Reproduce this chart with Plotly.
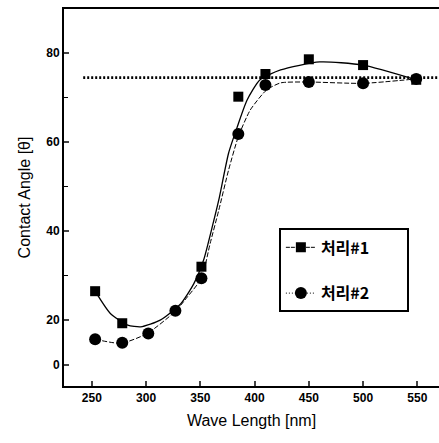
import plotly.graph_objects as go

# ---- data ----
wl_1 = [253, 278, 351, 385, 410, 450, 500, 549]
angle_1 = [26.5, 19.3, 32.0, 70.2, 75.3, 78.6, 77.3, 74.0]

wl_2 = [253, 278, 302, 327, 351, 385, 410, 450, 500, 549]
angle_2 = [15.7, 14.9, 17.0, 22.1, 29.4, 61.8, 72.8, 73.5, 73.2, 74.2]

# fitted curves
fit1_x = [253, 267, 283, 295, 313, 332, 344, 353, 361, 367, 376, 384, 393, 405, 424, 460, 500, 549]
fit1_y = [26.5, 21.5, 18.9, 18.5, 20.0, 23.7, 28.2, 33.5, 41.0, 47.0, 57.5, 63.4, 69.4, 74.0, 76.2, 78.0, 77.3, 74.0]

fit2_x = [253, 277, 301, 327, 338, 351, 359, 367, 376, 385, 396, 411, 424, 449, 500, 549]
fit2_y = [15.7, 14.8, 17.0, 22.0, 25.2, 29.4, 37.2, 44.7, 53.7, 61.2, 67.2, 71.7, 73.3, 73.5, 73.2, 74.2]

ref_x = [242, 575]
ref_level = 74.5

names = ["처리#1", "처리#2"]

y_tickvals = [10, 20, 40, 60, 80]
y_ticktext = ["0", "20", "40", "60", "80"]
y_minor = [30, 50, 70]
x_tickvals = [250, 300, 350, 400, 450, 500, 550]

pad = "\u2002" * 4  # widen the legend box

fig = go.Figure()

fig.add_trace(go.Scatter(x=ref_x, y=[ref_level, ref_level], mode="lines",
                         line=dict(color="black", width=2.8, dash="2px,2px"),
                         showlegend=False, hoverinfo="skip"))

fig.add_trace(go.Scatter(x=fit1_x, y=fit1_y, mode="lines",
                         line=dict(color="black", width=1.3, shape="spline", smoothing=0.6),
                         showlegend=False))
fig.add_trace(go.Scatter(x=fit2_x, y=fit2_y, mode="lines",
                         line=dict(color="black", width=1.0, dash="5px,2px",
                                   shape="spline", smoothing=0.6),
                         showlegend=False))

fig.add_trace(go.Scatter(x=wl_1, y=angle_1, mode="markers",
                         marker=dict(symbol="square", size=10, color="black"), showlegend=False))
fig.add_trace(go.Scatter(x=wl_2, y=angle_2, mode="markers",
                         marker=dict(symbol="circle", size=12, color="black"), showlegend=False))

# legend entries
fig.add_trace(go.Scatter(x=[None], y=[None], mode="lines+markers", name=names[0] + pad,
                         legendgroup="a",
                         line=dict(color="black", width=1, dash="4px,1px"),
                         marker=dict(symbol="square", size=10, color="black")))
fig.add_trace(go.Scatter(x=[None], y=[None], mode="lines+markers", name=names[1] + pad,
                         legendgroup="b",
                         line=dict(color="black", width=1, dash="1px,2px"),
                         marker=dict(symbol="circle", size=12, color="black")))

fig.update_layout(
    width=439, height=443,
    margin=dict(l=64, r=0, t=9, b=57, autoexpand=False),
    paper_bgcolor="white", plot_bgcolor="white",
    font=dict(family="Liberation Sans, Arial, sans-serif", color="black"),
    legend=dict(x=0.573, y=0.418, xanchor="left", yanchor="top",
                bordercolor="black", borderwidth=2, bgcolor="white",
                traceorder="grouped", tracegroupgap=22,
                font=dict(family="Noto Sans CJK KR", size=16, color="black", weight="bold")),
    xaxis=dict(range=[224.3, 570], tickvals=x_tickvals, ticks="inside", ticklen=5,
               tickwidth=1.5, showline=True, linewidth=2, linecolor="black",
               mirror=True, showgrid=False, zeroline=False, automargin=False,
               tickfont=dict(size=12, weight="bold"),
               title=dict(text="Wave Length [nm]", font=dict(size=16),
                          standoff=10)),
    yaxis=dict(range=[5.2, 89.9], tickvals=y_tickvals, ticktext=y_ticktext,
               ticks="inside", ticklen=5, tickwidth=1.5, showline=True, linewidth=2,
               linecolor="black", showgrid=False, zeroline=False, automargin=False,
               minor=dict(tickvals=y_minor, ticks="inside", ticklen=4, tickwidth=1.2,
                          tickcolor="black"),
               tickfont=dict(size=12, weight="bold"),
               title=dict(text="Contact Angle [θ]", font=dict(size=16),
                          standoff=12)),
)

fig.write_html("out.html", config={"displayModeBar": False},
               post_script="document.body.style.margin='0';document.body.style.padding='0';")
